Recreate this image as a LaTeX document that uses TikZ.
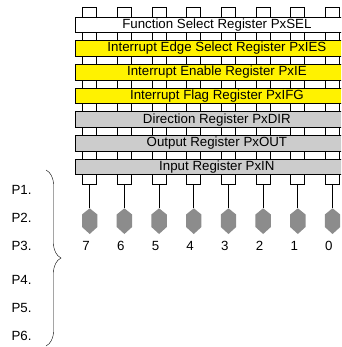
\documentclass[tikz,border=0pt]{standalone}
\usepackage{fontspec}
\setmainfont{Liberation Sans}
\usetikzlibrary{decorations.pathreplacing}
\begin{document}
\begin{tikzpicture}[x=1pt,y=-1pt]
			\tikzstyle{reg}=[draw,line width=0.8pt,minimum width=282.3pt,minimum height=15.6pt,inner sep=0pt,font=\fontsize{13.3}{15}\selectfont]
			\tikzstyle{lane}=[draw,line width=0.8pt,fill=white,minimum width=14pt,minimum height=176.7pt,inner sep=0pt]
			\tikzstyle{pin}=[fill=black!45]
			\tikzstyle{num}=[inner sep=0pt,font=\fontsize{13.3}{15}\selectfont]
			\clip (0,0) rectangle (341,347);
			% one lane per bit, behind the registers
			\foreach \i in {0,...,7}
			{
				\pgfmathsetmacro{\cx}{89.7+34.69*\i}
				\pgfmathtruncatemacro{\bit}{7-\i}
				\node[lane] (lane\bit) at (\cx,95.65) {};
				\coordinate (tip\bit) at (\cx,208.3);
				\draw[line width=0.9pt] (lane\bit.south) -- (tip\bit);
				\fill[pin] (tip\bit) -- ++(7.7,6.2) -- ++(0,12.5) -- ++(-7.7,7) -- ++(-7.7,-7) -- ++(0,-12.5) -- cycle;
				\node[num] (n\bit) at (\cx-3.6,246) {\bit};
			}
			% the port registers
			\foreach \name/\txt/\col [count=\k from 0] in {sel/Function Select Register PxSEL/white,
				ies/Interrupt Edge Select Register PxIES/yellow,
				ie/Interrupt Enable Register PxIE/yellow,
				ifg/Interrupt Flag Register PxIFG/yellow,
				dir/Direction Register PxDIR/black!20,
				out/Output Register PxOUT/black!20,
				in/Input Register PxIN/black!20}
			{
				\node[reg,fill=\col] (\name) at (216.9,{24.8+23.7*\k}) {\txt};
			}
			% ports
			\foreach \p/\y in {1/190,2/218,3/246,4/279.5,5/307.7,6/336}
			{
				\node[num,anchor=west] (p\p) at (11.3,\y) {P\p.};
			}
			\coordinate (btop) at (46,170);
			\coordinate (bbot) at (46,346);
			\draw[decorate,decoration={brace,amplitude=15pt}] (btop) -- (bbot);
\end{tikzpicture}
\end{document}
